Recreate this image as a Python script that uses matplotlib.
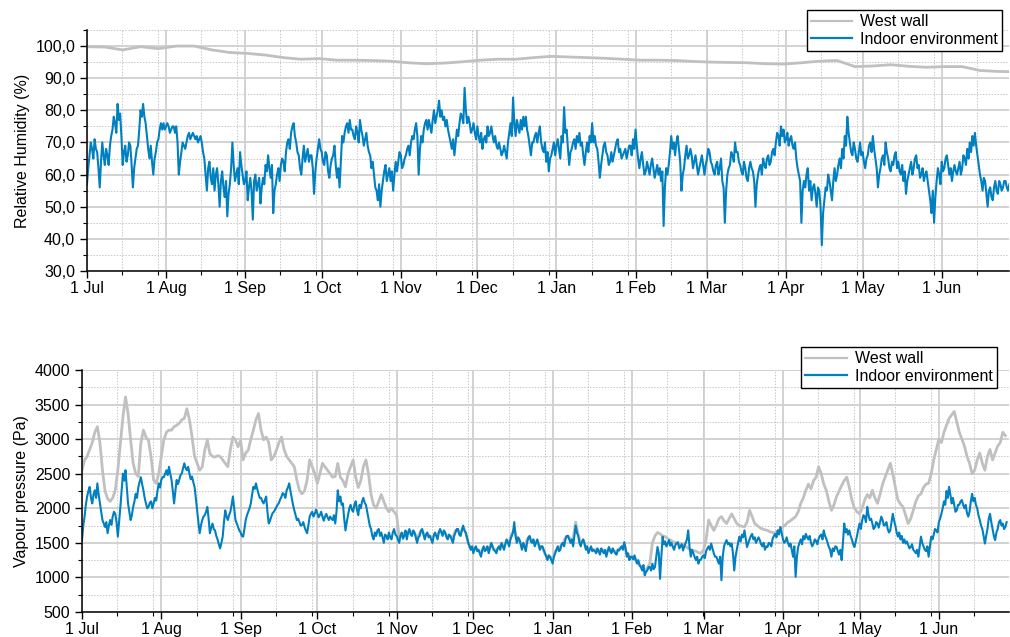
import numpy as np
import pandas as pd
import matplotlib
matplotlib.use("Agg")
import matplotlib.pyplot as plt
import matplotlib.dates as mdates
from matplotlib.ticker import MultipleLocator, FuncFormatter, FixedLocator

# -----------------------------------
# DATA
# -----------------------------------

START = "2014-07-01"

# relative humidity, west wall (weekly readings)
rh_wall = [
    99.8, 99.7, 98.8, 99.8, 99.2, 100.0, 100.0, 98.8, 98.0, 97.7,
    97.2, 96.4, 95.9, 96.1, 95.6, 95.6, 95.5, 95.3, 94.8, 94.5,
    94.7, 95.1, 95.6, 95.9, 95.9, 96.4, 96.8, 96.6, 96.4, 96.2,
    95.9, 95.6, 95.6, 95.5, 95.2, 95.0, 94.9, 94.8, 94.5, 94.4,
    94.8, 95.3, 95.5, 93.6, 93.8, 94.2, 93.7, 93.4, 93.6, 93.6,
    92.4, 92.1, 92.0,
]

# relative humidity, indoor: midnight readings
rh_indoor = [
    57, 66, 68, 71, 67, 56, 70, 63, 66, 69,
    74, 76, 82, 79, 63, 69, 66, 69, 56, 65,
    69, 80, 82, 76, 68, 69, 60, 67, 71, 76,
    76, 75, 75, 74, 75, 75, 60, 67, 69, 70,
    73, 72, 72, 72, 71, 70, 65, 55, 64, 57,
    55, 62, 50, 61, 53, 47, 57, 70, 58, 62,
    67, 60, 58, 52, 59, 46, 60, 57, 51, 59,
    63, 66, 59, 48, 57, 62, 63, 64, 67, 71,
    73, 76, 70, 66, 60, 69, 66, 64, 66, 54,
    65, 71, 67, 63, 66, 59, 65, 69, 59, 56,
    72, 73, 76, 77, 74, 71, 73, 77, 72, 71,
    69, 66, 64, 56, 52, 50, 58, 63, 60, 58,
    55, 64, 64, 66, 63, 66, 69, 70, 71, 76,
    60, 72, 74, 77, 77, 73, 80, 78, 83, 80,
    78, 77, 72, 68, 66, 74, 76, 78, 87, 76,
    76, 74, 73, 75, 70, 68, 72, 75, 73, 72,
    72, 68, 68, 67, 67, 70, 76, 84, 72, 75,
    77, 78, 78, 72, 66, 70, 73, 73, 70, 67,
    64, 61, 66, 70, 69, 68, 72, 81, 74, 63,
    68, 71, 72, 73, 70, 63, 70, 72, 76, 72,
    68, 59, 66, 70, 66, 64, 64, 68, 71, 68,
    66, 68, 67, 69, 71, 74, 65, 65, 63, 61,
    62, 63, 62, 61, 60, 58, 44, 62, 63, 72,
    70, 70, 68, 55, 62, 69, 66, 66, 64, 63,
    62, 66, 60, 65, 67, 63, 60, 64, 62, 58,
    45, 60, 63, 66, 70, 67, 63, 60, 62, 58,
    64, 61, 50, 60, 63, 65, 62, 66, 64, 68,
    70, 72, 75, 74, 71, 69, 72, 68, 65, 60,
    45, 58, 60, 55, 52, 57, 50, 55, 38, 52,
    55, 58, 52, 62, 60, 65, 68, 72, 78, 70,
    66, 68, 64, 70, 67, 62, 66, 70, 72, 65,
    56, 62, 66, 70, 65, 61, 63, 67, 64, 60,
    58, 54, 60, 64, 62, 66, 63, 60, 58, 61,
    55, 48, 45, 58, 60, 64, 62, 66, 60, 58,
    63, 60, 64, 62, 65, 68, 70, 72, 73, 66,
    60, 55, 58, 50, 56, 52, 58, 54, 57, 56,
    58, 55,
]

# relative humidity, indoor: noon readings
rh_indoor_noon = [
    62, 70, 65, 68, 62, 64, 66, 68, 63, 72,
    78, 73, 77, 72, 67, 64, 70, 63, 62, 68,
    74, 78, 78, 72, 65, 64, 65, 70, 74, 74,
    74, 76, 73, 75, 73, 70, 64, 70, 68, 72,
    71, 73, 71, 70, 72, 67, 60, 62, 59, 62,
    60, 57, 58, 56, 58, 54, 62, 63, 60, 57,
    63, 57, 61, 56, 55, 58, 55, 59, 56, 57,
    61, 62, 63, 55, 60, 58, 65, 61, 70, 68,
    75, 72, 67, 62, 65, 64, 68, 66, 62, 61,
    68, 68, 64, 67, 61, 63, 66, 63, 62, 64,
    70, 75, 73, 74, 72, 75, 70, 74, 69, 73,
    67, 62, 60, 55, 57, 55, 61, 58, 62, 61,
    60, 61, 67, 62, 65, 68, 66, 72, 74, 72,
    68, 70, 76, 74, 75, 77, 76, 80, 78, 77,
    75, 74, 70, 71, 70, 72, 79, 76, 80, 78,
    73, 76, 71, 72, 73, 71, 70, 72, 75, 70,
    69, 70, 66, 69, 65, 73, 72, 76, 77, 73,
    74, 75, 74, 69, 70, 72, 70, 75, 68, 70,
    67, 65, 68, 66, 71, 65, 70, 73, 68, 67,
    70, 68, 70, 69, 66, 67, 67, 70, 70, 69,
    64, 63, 69, 67, 63, 67, 66, 70, 67, 65,
    67, 65, 69, 66, 68, 69, 62, 67, 60, 64,
    60, 65, 59, 63, 62, 61, 56, 60, 67, 68,
    66, 72, 64, 60, 66, 65, 68, 62, 66, 60,
    64, 63, 63, 68, 64, 61, 63, 60, 65, 56,
    55, 62, 67, 64, 67, 64, 61, 64, 59, 62,
    62, 58, 57, 62, 60, 63, 65, 63, 67, 66,
    73, 69, 72, 70, 73, 71, 69, 70, 62, 58,
    55, 56, 62, 58, 56, 54, 56, 50, 48, 56,
    60, 55, 58, 58, 63, 62, 65, 69, 73, 67,
    70, 65, 67, 66, 64, 65, 69, 67, 68, 62,
    60, 65, 63, 67, 62, 64, 66, 62, 61, 63,
    61, 58, 62, 60, 65, 62, 59, 62, 60, 58,
    52, 55, 53, 62, 57, 61, 65, 63, 62, 61,
    61, 62, 60, 66, 63, 65, 67, 69, 69, 63,
    58, 59, 54, 55, 53, 56, 55, 58, 55, 58,
    56, 57,
]

# vapour pressure, west wall (daily readings, Pa)
vp_wall = [
    2550, 2700, 2750, 2850, 2950, 3100, 3180, 2950, 2550, 2250,
    2140, 2100, 2150, 2260, 2550, 2940, 3320, 3610, 3370, 2990,
    2650, 2500, 2460, 2940, 3130, 3030, 2980, 2740, 2410, 2360,
    2500, 2750, 2990, 3100, 3130, 3130, 3180, 3200, 3230, 3280,
    3300, 3440, 3280, 3040, 2750, 2650, 2550, 2600, 2840, 2990,
    2790, 2750, 2740, 2760, 2750, 2700, 2650, 2600, 2850, 3030,
    2990, 2890, 2980, 2700, 2800, 2840, 3000, 3130, 3280, 3370,
    3130, 2990, 3030, 2950, 2700, 2750, 2840, 2950, 3030, 2850,
    2750, 2700, 2650, 2600, 2410, 2260, 2210, 2250, 2410, 2700,
    2600, 2500, 2360, 2500, 2650, 2600, 2550, 2500, 2450, 2460,
    2650, 2450, 2400, 2310, 2500, 2600, 2700, 2450, 2300, 2400,
    2600, 2700, 2500, 2200, 2050, 2000, 2100, 2200, 2100, 2000,
    1950, 2000, 1950, 1900, 1580, 1620, 1640, 1620, 1670, 1650,
    1640, 1570, 1640, 1680, 1600, 1630, 1600, 1580, 1630, 1620,
    1680, 1650, 1630, 1600, 1590, 1580, 1680, 1670, 1650, 1720,
    1650, 1500, 1420, 1390, 1420, 1390, 1360, 1420, 1430, 1390,
    1480, 1400, 1400, 1430, 1480, 1460, 1530, 1520, 1630, 1700,
    1560, 1530, 1470, 1430, 1550, 1570, 1540, 1490, 1530, 1440,
    1430, 1340, 1300, 1290, 1270, 1380, 1420, 1450, 1480, 1580,
    1600, 1550, 1560, 1800, 1620, 1500, 1530, 1450, 1400, 1420,
    1400, 1400, 1370, 1410, 1390, 1350, 1420, 1400, 1380, 1380,
    1420, 1440, 1470, 1340, 1290, 1290, 1290, 1240, 1170, 1150,
    1080, 1140, 1200, 1500, 1600, 1650, 1630, 1600, 1590, 1560,
    1540, 1520, 1500, 1480, 1490, 1480, 1450, 1420, 1400, 1390,
    1380, 1360, 1350, 1400, 1550, 1830, 1750, 1680, 1750, 1850,
    1880, 1820, 1780, 1850, 1920, 1850, 1780, 1750, 1740, 1730,
    1800, 1970, 1880, 1780, 1750, 1720, 1700, 1690, 1680, 1660,
    1650, 1640, 1670, 1700, 1730, 1760, 1800, 1820, 1850, 1880,
    1950, 2070, 2150, 2260, 2350, 2280, 2400, 2450, 2600, 2500,
    2350, 2260, 2100, 1970, 2050, 2170, 2250, 2330, 2400, 2450,
    2300, 2120, 2000, 1950, 1920, 2000, 2120, 2200, 2150, 2260,
    2150, 2070, 2200, 2350, 2450, 2550, 2650, 2500, 2300, 2120,
    2060, 2020, 1900, 1780, 1850, 1970, 2100, 2180, 2210, 2300,
    2350, 2360, 2500, 2700, 2850, 3000, 2950, 3100, 3200, 3300,
    3350, 3400, 3250, 3100, 3000, 2900, 2750, 2650, 2500, 2550,
    2700, 2800, 2650, 2550, 2750, 2850, 2700, 2800, 2900, 2950,
    3100, 3050,
]

# vapour pressure, indoor: midnight readings (Pa)
vp_indoor = [
    1540, 1880, 2170, 2310, 2070, 2260, 2360, 2070, 1830, 1730,
    1640, 1830, 1880, 1920, 1590, 2020, 2500, 2550, 2070, 1830,
    2020, 2210, 2300, 2450, 2260, 2070, 2020, 2100, 2070, 2110,
    2360, 2410, 2450, 2550, 2600, 2410, 2070, 2410, 2410, 2500,
    2650, 2550, 2500, 2460, 2310, 1970, 1640, 1830, 1900, 2020,
    1640, 1780, 1680, 1550, 1420, 1590, 1970, 1830, 1950, 2170,
    1830, 1730, 1650, 1590, 1830, 1950, 2070, 2310, 2360, 2210,
    2150, 2070, 2170, 1780, 1880, 1950, 2020, 2080, 2170, 2200,
    2260, 2360, 2150, 1970, 1830, 1800, 1760, 1730, 1640, 1880,
    1950, 1920, 1930, 1900, 1880, 1880, 1870, 1880, 1830, 1780,
    2260, 2170, 2070, 1680, 1900, 2050, 1950, 2100, 1900, 2000,
    2150, 2050, 1850, 1700, 1550, 1600, 1700, 1650, 1500, 1600,
    1650, 1550, 1700, 1600, 1500, 1650, 1600, 1550, 1700, 1600,
    1650, 1500, 1600, 1700, 1550, 1650, 1600, 1500, 1650, 1550,
    1700, 1600, 1650, 1550, 1600, 1500, 1650, 1700, 1600, 1750,
    1650, 1500, 1400, 1350, 1450, 1400, 1300, 1450, 1400, 1350,
    1500, 1400, 1350, 1450, 1500, 1400, 1550, 1450, 1600, 1800,
    1500, 1550, 1400, 1450, 1500, 1600, 1500, 1450, 1550, 1400,
    1450, 1350, 1250, 1300, 1200, 1350, 1450, 1400, 1500, 1550,
    1600, 1500, 1450, 1750, 1600, 1450, 1550, 1400, 1350, 1450,
    1400, 1350, 1380, 1420, 1350, 1300, 1440, 1350, 1380, 1330,
    1390, 1450, 1510, 1300, 1250, 1300, 1320, 1200, 1180, 1100,
    1030, 1100, 1150, 1200, 1150, 1440, 980, 1590, 1520, 1490,
    1460, 1440, 1470, 1510, 1450, 1390, 1500, 1680, 1300, 1350,
    1250, 1200, 1260, 1320, 1380, 1450, 1490, 1350, 1300, 1200,
    960, 1450, 1540, 1500, 1490, 1100, 1400, 1590, 1620, 1680,
    1440, 1550, 1630, 1580, 1540, 1540, 1450, 1400, 1440, 1490,
    1560, 1630, 1680, 1730, 1560, 1520, 1500, 1490, 1300, 1010,
    1440, 1550, 1600, 1630, 1550, 1500, 1490, 1530, 1560, 1620,
    1680, 1560, 1440, 1300, 1380, 1440, 1330, 1250, 1780, 1700,
    1680, 1550, 1440, 1600, 1780, 1820, 1880, 2020, 1830, 1780,
    1730, 1780, 1800, 1830, 1760, 1700, 1680, 1920, 1750, 1590,
    1550, 1500, 1490, 1470, 1440, 1400, 1350, 1300, 1590, 1450,
    1380, 1300, 1590, 1620, 1680, 1800, 1920, 2100, 2250, 2310,
    2070, 2050, 1970, 2050, 2120, 2000, 1930, 1950, 2210, 2150,
    2000, 1830, 1700, 1490, 1700, 1920, 1700, 1540, 1700, 1830,
    1780, 1730,
]

# vapour pressure, indoor: noon readings (Pa)
vp_indoor_noon = [
    1750, 2050, 2250, 2150, 2200, 2150, 2200, 1950, 1780, 1800,
    1750, 1760, 1950, 1800, 1800, 2250, 2400, 2300, 1950, 1900,
    2100, 2150, 2380, 2350, 2150, 2000, 2080, 2000, 2150, 2250,
    2300, 2450, 2500, 2480, 2500, 2250, 2250, 2350, 2480, 2580,
    2580, 2600, 2420, 2380, 2150, 1800, 1750, 1880, 1950, 1850,
    1720, 1700, 1600, 1480, 1500, 1800, 1880, 1900, 2050, 2000,
    1780, 1680, 1600, 1700, 1900, 2000, 2200, 2280, 2280, 2150,
    2100, 2120, 1950, 1820, 1930, 1980, 2050, 2130, 2220, 2150,
    2300, 2250, 2050, 1900, 1850, 1750, 1800, 1680, 1750, 1920,
    1880, 1980, 1870, 1950, 1820, 1920, 1830, 1850, 1900, 1950,
    2100, 2050, 1850, 1800, 2000, 1980, 2050, 1980, 2050, 2100,
    2080, 1950, 1750, 1600, 1650, 1680, 1600, 1580, 1620, 1550,
    1580, 1650, 1620, 1550, 1600, 1560, 1680, 1650, 1620, 1680,
    1580, 1580, 1680, 1620, 1620, 1580, 1550, 1600, 1600, 1650,
    1650, 1680, 1580, 1620, 1550, 1600, 1700, 1620, 1680, 1680,
    1580, 1450, 1450, 1420, 1380, 1350, 1400, 1380, 1450, 1420,
    1450, 1380, 1420, 1400, 1450, 1480, 1500, 1550, 1650, 1600,
    1580, 1480, 1500, 1380, 1580, 1520, 1550, 1500, 1480, 1450,
    1400, 1300, 1320, 1250, 1300, 1400, 1380, 1480, 1450, 1600,
    1550, 1550, 1600, 1650, 1500, 1520, 1480, 1450, 1400, 1380,
    1380, 1420, 1330, 1380, 1400, 1380, 1380, 1420, 1350, 1400,
    1420, 1400, 1420, 1350, 1300, 1260, 1250, 1250, 1150, 1180,
    1080, 1150, 1100, 1120, 1300, 1350, 1300, 1480, 1450, 1540,
    1500, 1400, 1500, 1420, 1480, 1450, 1550, 1450, 1400, 1300,
    1300, 1250, 1300, 1280, 1420, 1400, 1420, 1300, 1250, 1300,
    1300, 1500, 1480, 1450, 1350, 1300, 1500, 1520, 1580, 1560,
    1500, 1600, 1550, 1500, 1580, 1480, 1500, 1450, 1500, 1450,
    1600, 1580, 1620, 1650, 1500, 1580, 1450, 1400, 1450, 1300,
    1500, 1480, 1550, 1580, 1600, 1450, 1550, 1480, 1600, 1550,
    1600, 1500, 1400, 1420, 1450, 1380, 1400, 1500, 1650, 1620,
    1600, 1480, 1520, 1700, 1700, 1900, 1800, 1900, 1850, 1700,
    1800, 1720, 1880, 1750, 1800, 1650, 1800, 1820, 1650, 1650,
    1600, 1550, 1520, 1420, 1480, 1380, 1400, 1450, 1500, 1400,
    1450, 1450, 1550, 1700, 1650, 1850, 2000, 2050, 2150, 2200,
    2150, 1950, 2050, 2100, 2050, 2050, 1880, 2100, 2100, 2050,
    1900, 1750, 1600, 1600, 1850, 1800, 1600, 1650, 1800, 1750,
    1700, 1800,
]

days_daily = pd.date_range(START, periods=len(vp_wall), freq="D")
days_half = pd.date_range(START, periods=2 * len(rh_indoor), freq="12h")
days_weekly = pd.date_range(START, periods=len(rh_wall), freq="7D")

# midnight and noon readings in time order
rh_indoor_all = np.column_stack([rh_indoor, rh_indoor_noon]).ravel()
vp_indoor_all = np.column_stack([vp_indoor, vp_indoor_noon]).ravel()

WALL_COLOR = "#c0c0c0"
INDOOR_COLOR = "#0080c0"

plt.rcParams["font.family"] = ["Liberation Sans", "DejaVu Sans"]
plt.rcParams["font.size"] = 11.5

# -----------------------------------
# AXIS STYLE
# -----------------------------------

start = pd.Timestamp(START)
month_starts = pd.date_range(START, periods=12, freq="MS")
minor_dates = []
for m in month_starts:
    minor_dates.append(m + pd.Timedelta(hours=332))
    minor_dates.append(m + pd.Timedelta(hours=670))
minor_pos = mdates.date2num(minor_dates)


def style_axis(ax, x_end_days, y_minor):

    ax.set_xlim(start, start + pd.Timedelta(days=x_end_days))

    ax.xaxis.set_major_locator(mdates.MonthLocator())
    ax.xaxis.set_major_formatter(
        FuncFormatter(lambda v, p: "%d %s" % (mdates.num2date(v).day,
                                              mdates.num2date(v).strftime("%b")))
    )
    ax.xaxis.set_minor_locator(FixedLocator(minor_pos))
    ax.yaxis.set_minor_locator(MultipleLocator(y_minor))

    for side in ["top", "right"]:
        ax.spines[side].set_visible(False)
    for side in ["left", "bottom"]:
        ax.spines[side].set_linewidth(1.1)

    ax.tick_params(which="major", direction="out", length=5, width=1.0)
    ax.tick_params(which="minor", direction="out", length=3, width=0.8)
    ax.tick_params(axis="x", which="major", pad=2)

    ax.grid(which="major", color="#cfcfcf", linewidth=1.3, linestyle="-")
    ax.grid(which="minor", color="#c8c8c8", linewidth=0.7,
            linestyle=(0, (1.5, 1.5)))
    ax.set_axisbelow(True)


def add_legend(ax, anchor):

    leg = ax.legend(loc="upper right", bbox_to_anchor=anchor,
                    bbox_transform=fig.transFigure, fancybox=False,
                    framealpha=1, edgecolor="black", handlelength=2.6,
                    labelspacing=0.15, borderpad=0.25, handletextpad=0.5,
                    borderaxespad=0)
    leg.get_frame().set_linewidth(1.0)
    for line in leg.get_lines():
        line.set_linewidth(1.6)


# -----------------------------------
# PLOT
# -----------------------------------

fig = plt.figure(figsize=(10.1, 6.37), dpi=100)

ax1 = fig.add_axes([0.0861, 0.5746, 0.913, 0.3783])

ax1.plot(days_weekly, rh_wall, color=WALL_COLOR, linewidth=2.0,
         label="West wall")
ax1.plot(days_half, rh_indoor_all, color=INDOOR_COLOR, linewidth=1.5,
         label="Indoor environment")

style_axis(ax1, 361.4, 5)
ax1.set_ylim(30, 105)
ax1.yaxis.set_major_locator(MultipleLocator(10))
ax1.yaxis.set_major_formatter(
    FuncFormatter(lambda v, p: ("%.1f" % v).replace(".", ","))
)
ax1.set_ylabel("Relative Humidity (%)")
add_legend(ax1, (0.992, 0.984))

ax2 = fig.add_axes([0.0812, 0.0392, 0.918, 0.38])

ax2.plot(days_daily, vp_wall, color=WALL_COLOR, linewidth=2.0,
         label="West wall")
ax2.plot(days_half, vp_indoor_all, color=INDOOR_COLOR, linewidth=1.5,
         label="Indoor environment")

style_axis(ax2, 362.5, 250)
ax2.set_ylim(500, 4000)
ax2.yaxis.set_major_locator(MultipleLocator(500))
ax2.set_ylabel("Vapour pressure (Pa)")
add_legend(ax2, (0.987, 0.455))

fig.savefig("out.png", dpi=100)
plt.close(fig)
